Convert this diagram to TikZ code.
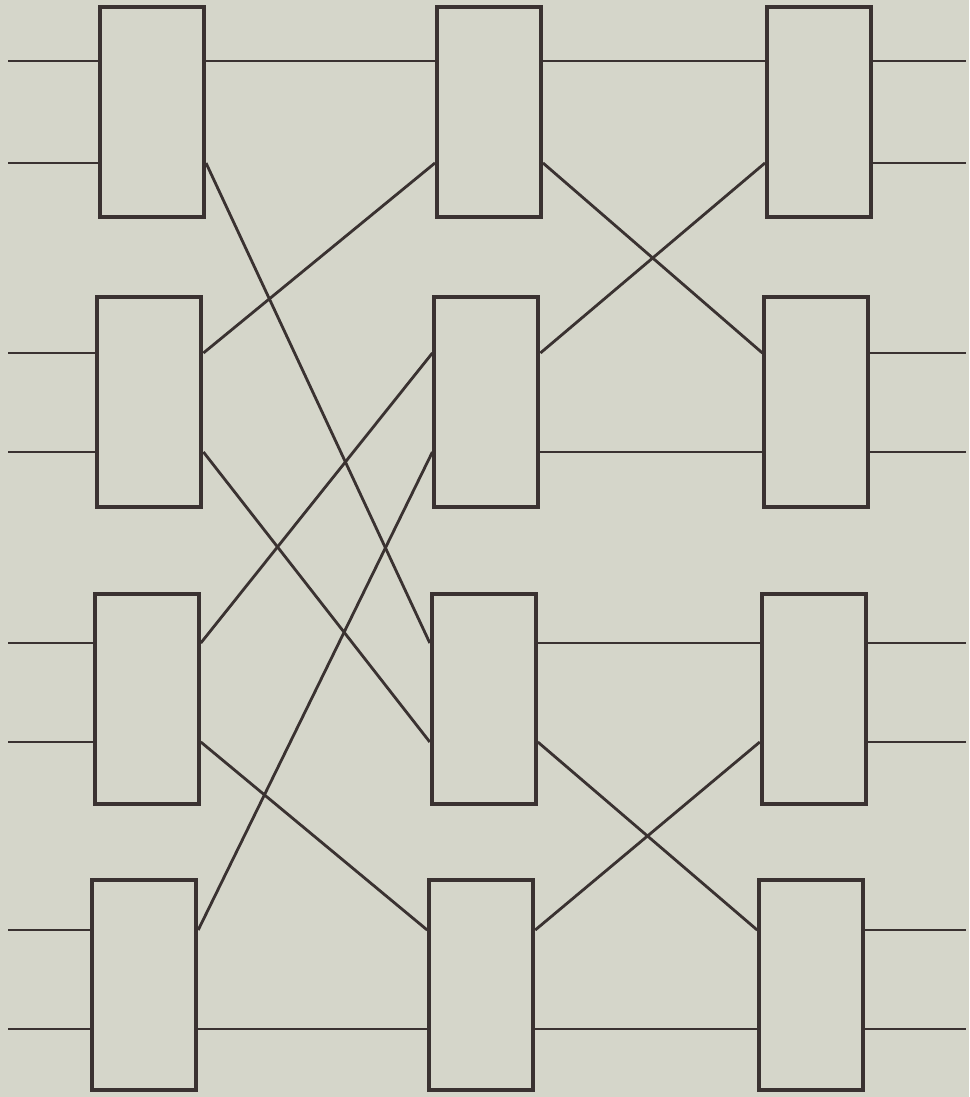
\documentclass[tikz,border=0pt]{standalone}
\usepackage{tikz}
\usetikzlibrary{positioning}
\definecolor{swline}{HTML}{3A3231}
\definecolor{paper}{HTML}{D5D6CA}

\begin{document}
\begin{tikzpicture}[x=0.02cm, y=-0.02cm,
  switchbox/.style={rectangle, draw=swline, line width=2.3pt, minimum width=2.08cm,
                    minimum height=4.2cm, inner sep=0pt},
  wire/.style={draw=swline, line width=1.6pt}
]
\fill[paper] (0,0) rectangle (969,1097);
\useasboundingbox (0,0) rectangle (969,1097);

% switches: row / y centre / upper and lower port offsets
\foreach \r/\y/\u/\l in {1/112/51/51, 2/402/49/50, 3/699/56/43, 4/985/55/44}{
  \foreach \c/\x in {1/152, 2/489, 3/819}{
    \node[switchbox] (s\c\r) at ({\x-2.6*(\r-1)}, \y) {};
    \coordinate (s\c\r-lu) at ([yshift=\u*0.02cm]s\c\r.west);
    \coordinate (s\c\r-ll) at ([yshift=-\l*0.02cm]s\c\r.west);
    \coordinate (s\c\r-ru) at ([yshift=\u*0.02cm]s\c\r.east);
    \coordinate (s\c\r-rl) at ([yshift=-\l*0.02cm]s\c\r.east);
  }
  % inputs and outputs
  \coordinate (in\r u) at (8, \y-\u);
  \coordinate (in\r l) at (8, \y+\l);
  \coordinate (out\r u) at (966, \y-\u);
  \coordinate (out\r l) at (966, \y+\l);
  \draw[wire] (in\r u) -- (s1\r-lu);
  \draw[wire] (in\r l) -- (s1\r-ll);
  \draw[wire] (s3\r-ru) -- (out\r u);
  \draw[wire] (s3\r-rl) -- (out\r l);
}

% links between stages
\foreach \a/\b in {s11-ru/s21-lu, s11-rl/s23-lu, s12-ru/s21-ll, s12-rl/s23-ll,
                   s13-ru/s22-lu, s13-rl/s24-lu, s14-ru/s22-ll, s14-rl/s24-ll,
                   s21-ru/s31-lu, s21-rl/s32-lu, s22-ru/s31-ll, s22-rl/s32-ll,
                   s23-ru/s33-lu, s23-rl/s34-lu, s24-ru/s33-ll, s24-rl/s34-ll}
  \draw[wire] (\a) -- (\b);
\end{tikzpicture}
\end{document}
